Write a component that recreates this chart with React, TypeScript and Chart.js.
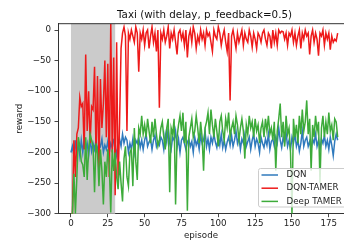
import React, { useEffect, useRef } from "react";
import { Chart, registerables } from "chart.js";

Chart.register(...registerables);

const TITLE = "Taxi (with delay, p_feedback=0.5)";
const SERIES_LABELS = ["DQN", "DQN-TAMER", "Deep TAMER"];
const SERIES_COLORS = ["#2f7abd", "#ee1a1a", "#3dab3a"];
const X_TICKS = [0, 25, 50, 75, 100, 125, 150, 175];
const Y_TICKS = [-300, -250, -200, -150, -100, -50, 0];
const FEEDBACK_SPAN = [0, 30];

const dqn = [
  -200, -190, -205, -180, -205, -185, -205, -180, -200, -178,
  -195, -185, -205, -178, -198, -185, -195, -180, -200, -185,
  -190, -178, -200, -188, -195, -182, -200, -185, -192, -180,
  -185, -205, -190, -178, -190, -170, -185, -175, -180, -200,
  -185, -195, -178, -200, -180, -185, -175, -192, -180, -195,
  -180, -170, -190, -183, -178, -195, -180, -172, -190, -182,
  -188, -175, -180, -195, -170, -183, -160, -185, -195, -175,
  -180, -165, -192, -178, -200, -180, -175, -185, -195, -183,
  -178, -190, -182, -200, -175, -188, -180, -195, -172, -185,
  -180, -165, -190, -178, -195, -175, -185, -170, -183, -192,
  -175, -188, -170, -192, -180, -195, -183, -175, -188, -172,
  -190, -180, -165, -185, -175, -195, -178, -185, -170, -190,
  -182, -175, -195, -180, -170, -190, -178, -185, -200, -175,
  -185, -192, -178, -188, -170, -195, -182, -178, -190, -175,
  -185, -160, -180, -192, -175, -185, -168, -190, -180, -195,
  -175, -185, -170, -190, -180, -198, -185, -165, -190, -180,
  -175, -190, -182, -195, -178, -185, -170, -190, -180, -195,
  -178, -185, -172, -190, -180, -195, -175, -188, -205, -182,
  -170, -180,
];

const dqnTamer = [
  -300, -300, -180, -240, -170, -160, -110, -125, -120, -195,
  -40, -165, -100, -185, -125, -130, -60, -200, -75, -230,
  -80, -160, -120, -50, -175, -55, -240, 10, -200, -45,
  -270, -20, -250, -150, -30, -5, 5, -10, -165, -5,
  -15, 0, -10, -20, 5, -5, -68, -5, -15, 0,
  -25, -5, 0, -30, -10, 5, -20, -5, -35, 0,
  -127, -5, -15, 0, -20, -10, 5, -30, -5, -15,
  0, -20, -40, -5, 0, -15, -5, -25, 0, -45,
  -10, 0, -20, 5, -5, -30, -10, -20, 0, -15,
  -5, -25, 0, -10, -5, -20, -35, 0, -10, -15,
  5, -5, -25, -10, 0, -20, -35, -5, -115, -10,
  0, -15, -30, -5, -20, -10, 0, -25, -5, -15,
  -20, 0, -10, -28, -5, -15, -30, -5, -10, -20,
  -5, 0, -15, -25, -5, -10, -30, 0, -20, -5,
  -25, 0, -5, -2, -3, -15, -5, -25, -5, -10,
  0, -20, -5, -25, -10, 0, -30, -5, -15, 0,
  -10, -5, -40, -10, 0, -20, -5, -15, -42, -5,
  -10, 0, -25, -5, -15, -5, -32, -10, -20, -15,
  -18, -5,
];

const deepTamer = [
  -300, -300, -235, -300, -240, -175, -190, -215, -220, -240,
  -175, -245, -195, -170, -180, -190, -265, -185, -200, -255,
  -195, -230, -285, -215, -240, -195, -220, -298, -195, -230,
  -200, -240, -260, -215, -250, -280, -210, -190, -240, -255,
  -200, -195, -255, -160, -215, -245, -160, -170, -140, -170,
  -155, -175, -145, -165, -185, -150, -175, -145, -170, -190,
  -180, -160, -150, -175, -195, -160, -145, -265, -160, -170,
  -145, -285, -175, -155, -140, -165, -135, -185, -150, -295,
  -175, -160, -145, -175, -165, -140, -160, -185, -150, -175,
  -230, -160, -150, -135, -170, -130, -155, -175, -145, -165,
  -190, -150, -140, -165, -180, -145, -160, -135, -175, -160,
  -150, -170, -140, -155, -180, -160, -145, -165, -210, -155,
  -170, -140, -160, -150, -175, -145, -165, -155, -185, -160,
  -150, -175, -145, -165, -140, -170, -160, -180, -150, -230,
  -165, -145, -120, -175, -150, -190, -140, -170, -160, -200,
  -300, -145, -175, -155, -185, -140, -170, -130, -165, -150,
  -115, -170, -145, -230, -155, -175, -140, -165, -150, -250,
  -160, -140, -175, -150, -170, -135, -165, -155, -180, -145,
  -150, -175,
];

const SERIES = [dqn, dqnTamer, deepTamer];

const FONT = "DejaVu Sans";
const fmt = (v: number) => String(v).replace("-", "\u2212");

const decorPlugin = {
  id: "decor",
  beforeDatasetsDraw(chart: any) {
    const { ctx, chartArea, scales } = chart;
    const x0 = scales.x.getPixelForValue(FEEDBACK_SPAN[0]);
    const x1 = scales.x.getPixelForValue(FEEDBACK_SPAN[1]);
    ctx.save();
    ctx.fillStyle = "#cbcbcb";
    ctx.fillRect(x0, chartArea.top, x1 - x0, chartArea.bottom - chartArea.top);
    ctx.restore();
  },
  afterDraw(chart: any) {
    const { ctx, chartArea } = chart;
    ctx.save();
    // top spine
    ctx.strokeStyle = "#333";
    ctx.lineWidth = 1;
    ctx.beginPath();
    ctx.moveTo(chartArea.left, chartArea.top);
    ctx.lineTo(chartArea.right + 10, chartArea.top);
    ctx.stroke();
    // title
    ctx.fillStyle = "#111";
    ctx.font = `10.3px "${FONT}"`;
    ctx.textAlign = "center";
    ctx.textBaseline = "middle";
    ctx.fillText(TITLE, 204.5, 15);
    // legend
    const bx = 258.5, by = 168.5, bw = 100, bh = 38.5;
    ctx.fillStyle = "rgba(255,255,255,0.8)";
    ctx.strokeStyle = "#cccccc";
    ctx.lineWidth = 1;
    ctx.beginPath();
    (ctx as any).roundRect ? (ctx as any).roundRect(bx, by, bw, bh, 2) : ctx.rect(bx, by, bw, bh);
    ctx.fill();
    ctx.stroke();
    ctx.font = `8.7px "${FONT}"`;
    ctx.textAlign = "left";
    ctx.textBaseline = "middle";
    chart.data.datasets.forEach((ds: any, i: number) => {
      const y = 175 + i * 13.2;
      ctx.strokeStyle = ds.borderColor;
      ctx.lineWidth = 1.5;
      ctx.beginPath();
      ctx.moveTo(261.5, y);
      ctx.lineTo(278, y);
      ctx.stroke();
      ctx.fillStyle = "#222";
      ctx.fillText(ds.label, 286.5, y);
    });
    ctx.restore();
  },
};

export default function App() {
  const ref = useRef<HTMLCanvasElement | null>(null);
  useEffect(() => {
    if (!ref.current) return;
    const datasets = SERIES.map((arr, i) => ({
      label: SERIES_LABELS[i],
      data: arr.map((y, x) => ({ x, y })),
      borderColor: SERIES_COLORS[i],
      backgroundColor: SERIES_COLORS[i],
      borderWidth: 1.5,
      pointRadius: 0,
      tension: 0,
      fill: false,
      order: 3 - i,
    }));
    const chart = new Chart(ref.current, {
      type: "line",
      data: { datasets },
      plugins: [decorPlugin],
      options: {
        animation: false,
        responsive: true,
        maintainAspectRatio: false,
        devicePixelRatio: 1,
        layout: { padding: { top: 23.7, left: 0, right: 0, bottom: 0 } },
        plugins: { legend: { display: false }, title: { display: false }, tooltip: { enabled: false } },
        font: { family: FONT },
        scales: {
          x: {
            type: "linear",
            min: -8.8,
            max: 185.3,
            grid: { drawOnChartArea: false, drawTicks: true, tickLength: 3.5, color: "#333", tickWidth: 0.9 },
            border: { display: true, color: "#333", width: 1 },
            ticks: {
              includeBounds: false,
              padding: 1.5,
              color: "#222",
              font: { family: FONT, size: 8.7 },
              maxRotation: 0,
              callback: (v: any) => fmt(v),
            },
            afterBuildTicks: (s: any) => { s.ticks = X_TICKS.map((value) => ({ value })); },
            afterFit: (s: any) => { s.height = 29.3; },
            title: { display: true, text: "episode", color: "#222", font: { family: FONT, size: 8.7 }, padding: { top: 0, bottom: 2 } },
          },
          y: {
            type: "linear",
            min: -300,
            max: 10.3,
            grid: { drawOnChartArea: false, drawTicks: true, tickLength: 3.5, color: "#333", tickWidth: 0.9 },
            border: { display: true, color: "#333", width: 1 },
            ticks: {
              includeBounds: false,
              padding: 3.5,
              color: "#222",
              font: { family: FONT, size: 8.7 },
              callback: (v: any) => fmt(v),
            },
            afterBuildTicks: (s: any) => { s.ticks = Y_TICKS.map((value) => ({ value })); },
            afterFit: (s: any) => { s.width = 58; },
            title: { display: true, text: "reward", color: "#222", font: { family: FONT, size: 8.7 }, padding: { top: 14.6, bottom: 0 } },
          },
        },
      } as any,
    });
    return () => chart.destroy();
  }, []);
  return (
    <div style={{ position: "fixed", left: 0, top: 0, width: 344, height: 243, background: "#fff" }}>
      <canvas ref={ref} />
    </div>
  );
}
